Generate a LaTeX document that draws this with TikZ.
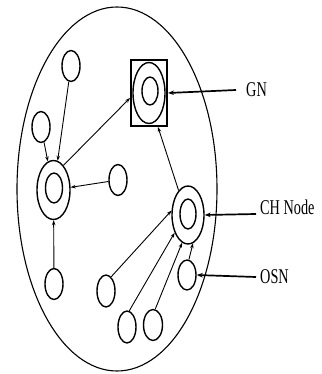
\documentclass[tikz,border=0pt]{standalone}
\usepackage{fontspec}
\usepackage{graphicx}
\setmainfont{Liberation Serif}
\usetikzlibrary{shapes.geometric,arrows.meta}
\tikzset{
  sn/.style={ellipse, draw, line width=1.4pt, inner sep=0pt, minimum width=18pt, minimum height=31pt},
  chouter/.style={ellipse, draw, line width=1.4pt, inner sep=0pt, minimum width=33pt, minimum height=59pt},
  chinner/.style={ellipse, draw, line width=1.4pt, inner sep=0pt, minimum width=17pt, minimum height=30pt},
  link/.style={line width=0.9pt, -{Stealth[length=5pt,width=3.5pt]}},
  lablink/.style={line width=1.7pt, -{Stealth[length=6pt,width=4.5pt]}},
  lab/.style={inner ysep=0pt, font=\fontsize{21}{21}\selectfont},
}
\newcommand{\nar}[1]{\scalebox{0.68}[1]{#1}}
\begin{document}
\begin{tikzpicture}[x=1pt,y=-1pt]
\useasboundingbox (0,0) rectangle (321,374);
% field
\node[ellipse, draw, line width=1.1pt, inner sep=0pt, minimum width=200pt, minimum height=364pt] (field) at (117,189) {};
% GN
\node[draw, line width=2pt, inner sep=0pt, minimum width=36pt, minimum height=66pt] (gnbox) at (149,93) {};
\node[ellipse, draw, line width=1.4pt, inner sep=0pt, minimum width=32pt, minimum height=61pt] (gnout) at (149,93) {};
\node[ellipse, draw, line width=1.4pt, inner sep=0pt, minimum width=16pt, minimum height=28pt] (gnin) at (150,91) {};
% cluster heads
\node[chouter] (lch) at (53.5,190) {};
\node[chinner] (lchin) at (54,188) {};
\node[chouter, minimum width=32pt, minimum height=58pt] (rch) at (188,215) {};
\node[chinner, minimum width=16pt] (rchin) at (188,214) {};
% ordinary sensor nodes
\node[sn] (a) at (71,66) {};
\node[sn] (b) at (41,127) {};
\node[sn] (f) at (118,180) {};
\node[sn] (g) at (54,284) {};
\node[sn, minimum height=32pt] (c) at (106,291) {};
\node[sn, minimum height=32pt] (d) at (127,327) {};
\node[sn, minimum width=19pt] (e) at (153,325) {};
\node[sn, minimum height=30pt] (osn) at (187,275) {};
% links
\draw[link] (a) -- (lch);
\draw[link] (b) -- (lch);
\draw[link] (f) -- (lch);
\draw[link] (g) -- (lch);
\draw[link] (lch.68) -- ([yshift=-5pt]gnbox.west);
\draw[link] (rch.111) -- ([xshift=9pt]gnbox.south);
\draw[link] (c.70) -- (rch.165);
\draw[link] (d.82) -- (rch.233);
\draw[link] (e.82) -- (rch.258);
\draw[link] (osn.83) -- (rch.280);
% labels
\node[lab, anchor=west, inner xsep=10pt] (gnl) at (236,90) {\nar{GN}};
\node[lab, anchor=base west, inner xsep=4pt] (chl) at (256,214) {\nar{CH Node}};
\node[lab, anchor=west, inner xsep=4pt] (osnl) at (256,277) {\nar{OSN}};
\draw[lablink] (gnl.west) -- (gnbox.east);
\draw[lablink] (chl.base west) -- (rch.east);
\draw[lablink] (osnl.west) -- (osn.east);
\end{tikzpicture}
\end{document}
